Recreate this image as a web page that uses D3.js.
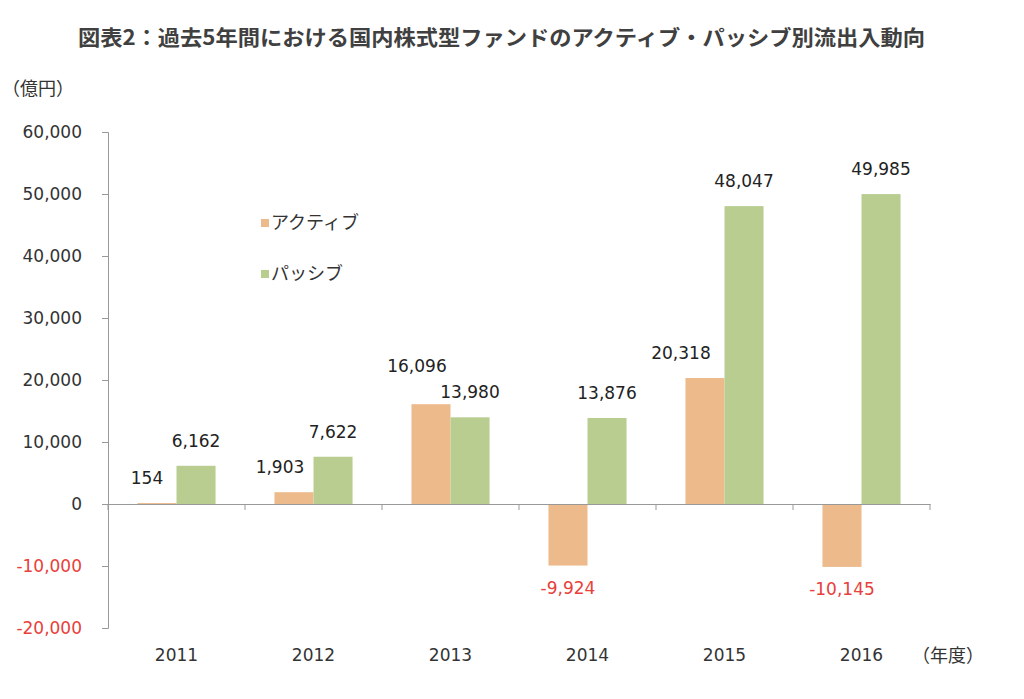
<!DOCTYPE html>
<html><head><meta charset="utf-8">
<script src="https://cdn.jsdelivr.net/npm/d3@7"></script>
<style>
body{margin:0;background:#fff;}
svg{display:block;}
</style></head>
<body>
<svg id="chart" width="1024" height="699"></svg>
<script>
const title = "図表2：過去5年間における国内株式型ファンドのアクティブ・パッシブ別流出入動向";
const years = ["2011","2012","2013","2014","2015","2016"];
const seriesNames = ["アクティブ","パッシブ"];
const active = [154, 1903, 16096, -9924, 20318, -10145];
const passive = [6162, 7622, 13980, 13876, 48047, 49985];
const yTicks = [-20000,-10000,0,10000,20000,30000,40000,50000,60000];

const colors = ["#EDBA8C","#B9CD91"];
const red = "#E8403A";
const numFont = "'DejaVu Sans', sans-serif";
const jpFont = "'Noto Sans CJK JP', sans-serif";

const svg = d3.select("#chart");
const mLeft = 108, mRight = 930, mTop = 132, mBottom = 628;

const x0 = d3.scaleBand().domain(years).range([mLeft, mRight]).paddingInner(0.43).paddingOuter(0.215);
const x1 = d3.scaleBand().domain([0,1]).range([0, x0.bandwidth()]);
const y = d3.scaleLinear().domain([-20000, 60000]).range([mBottom, mTop]);

// title
svg.append("text").attr("x", 78).attr("y", 45)
  .attr("font-family", jpFont).attr("font-weight", "bold").attr("font-size", 21)
  .attr("fill", "#404040").attr("textLength", 847).attr("lengthAdjust","spacingAndGlyphs")
  .text(title);

// y unit
svg.append("text").attr("x", 2).attr("y", 95)
  .attr("font-family", jpFont).attr("font-size", 18).attr("fill", "#333")
  .text("（億円）");

// y axis
const yAxis = d3.axisLeft(y).tickValues(yTicks).tickSize(6).tickPadding(20)
  .tickFormat(d => d3.format(",")(d).replace("−","-"));
const ga = svg.append("g").attr("transform", `translate(${mLeft},0)`).call(yAxis);
ga.select(".domain").attr("stroke", "#999");
ga.selectAll(".tick line").attr("stroke", "#999");
ga.selectAll(".tick text").attr("font-family", numFont).attr("font-size", 17)
  .attr("fill", d => d < 0 ? red : "#333");

// bars
const data = years.map((yr, i) => ({yr, vals:[active[i], passive[i]]}));
const groups = svg.append("g").selectAll("g").data(data).join("g")
  .attr("transform", d => `translate(${x0(d.yr)},0)`);
groups.selectAll("rect").data(d => d.vals.map((v, k) => ({v, k}))).join("rect")
  .attr("x", d => x1(d.k)).attr("width", x1.bandwidth())
  .attr("y", d => y(Math.max(0, d.v)))
  .attr("height", d => Math.abs(y(d.v) - y(0)))
  .attr("fill", d => colors[d.k]);

// x axis (zero line)
const xAxis = d3.axisBottom(x0).tickSize(0).tickFormat("");
const gx = svg.append("g").attr("transform", `translate(0,${y(0)})`).call(xAxis);
gx.select(".domain").attr("stroke", "#999");
const step = x0.step();
const bounds = d3.range(years.length + 1).map(i => mLeft + i * step);
svg.append("g").selectAll("line").data(bounds).join("line")
  .attr("x1", d => d).attr("x2", d => d).attr("y1", y(0)).attr("y2", y(0) + 6)
  .attr("stroke", "#999");

// category labels
svg.append("g").selectAll("text").data(years).join("text")
  .attr("x", d => x0(d) + x0.bandwidth()/2).attr("y", 661)
  .attr("text-anchor", "middle").attr("font-family", numFont).attr("font-size", 17)
  .attr("fill", "#333").text(d => d);
svg.append("text").attr("x", 912).attr("y", 662)
  .attr("font-family", jpFont).attr("font-size", 18).attr("fill", "#333").text("（年度）");

// value labels
const nudge = {"0-0":[-10,0],"1-0":[-14,0],"2-0":[-14,-13],"4-0":[-24,0]};
const labels = [];
data.forEach((d, i) => d.vals.forEach((v, k) => {
  const n = nudge[i + "-" + k] || [0,0];
  const cx = x0(d.yr) + x1(k) + x1.bandwidth()/2 + n[0];
  const cy = v >= 0 ? y(v) - 19 + n[1] : y(v) + 28;
  labels.push({v, cx, cy});
}));
svg.append("g").selectAll("text").data(labels).join("text")
  .attr("x", d => d.cx).attr("y", d => d.cy).attr("text-anchor", "middle")
  .attr("font-family", numFont).attr("font-size", 17)
  .attr("fill", d => d.v < 0 ? red : "#222")
  .text(d => d3.format(",")(d.v).replace("−","-"));

// legend
const lg = svg.append("g").selectAll("g").data(seriesNames).join("g")
  .attr("transform", (d, i) => `translate(261,${219 + i * 51})`);
lg.append("rect").attr("width", 8).attr("height", 8).attr("fill", (d, i) => colors[i]);
lg.append("text").attr("x", 10).attr("y", 10).attr("font-family", jpFont)
  .attr("font-size", 18).attr("fill", "#333").text(d => d);
</script>
</body></html>
